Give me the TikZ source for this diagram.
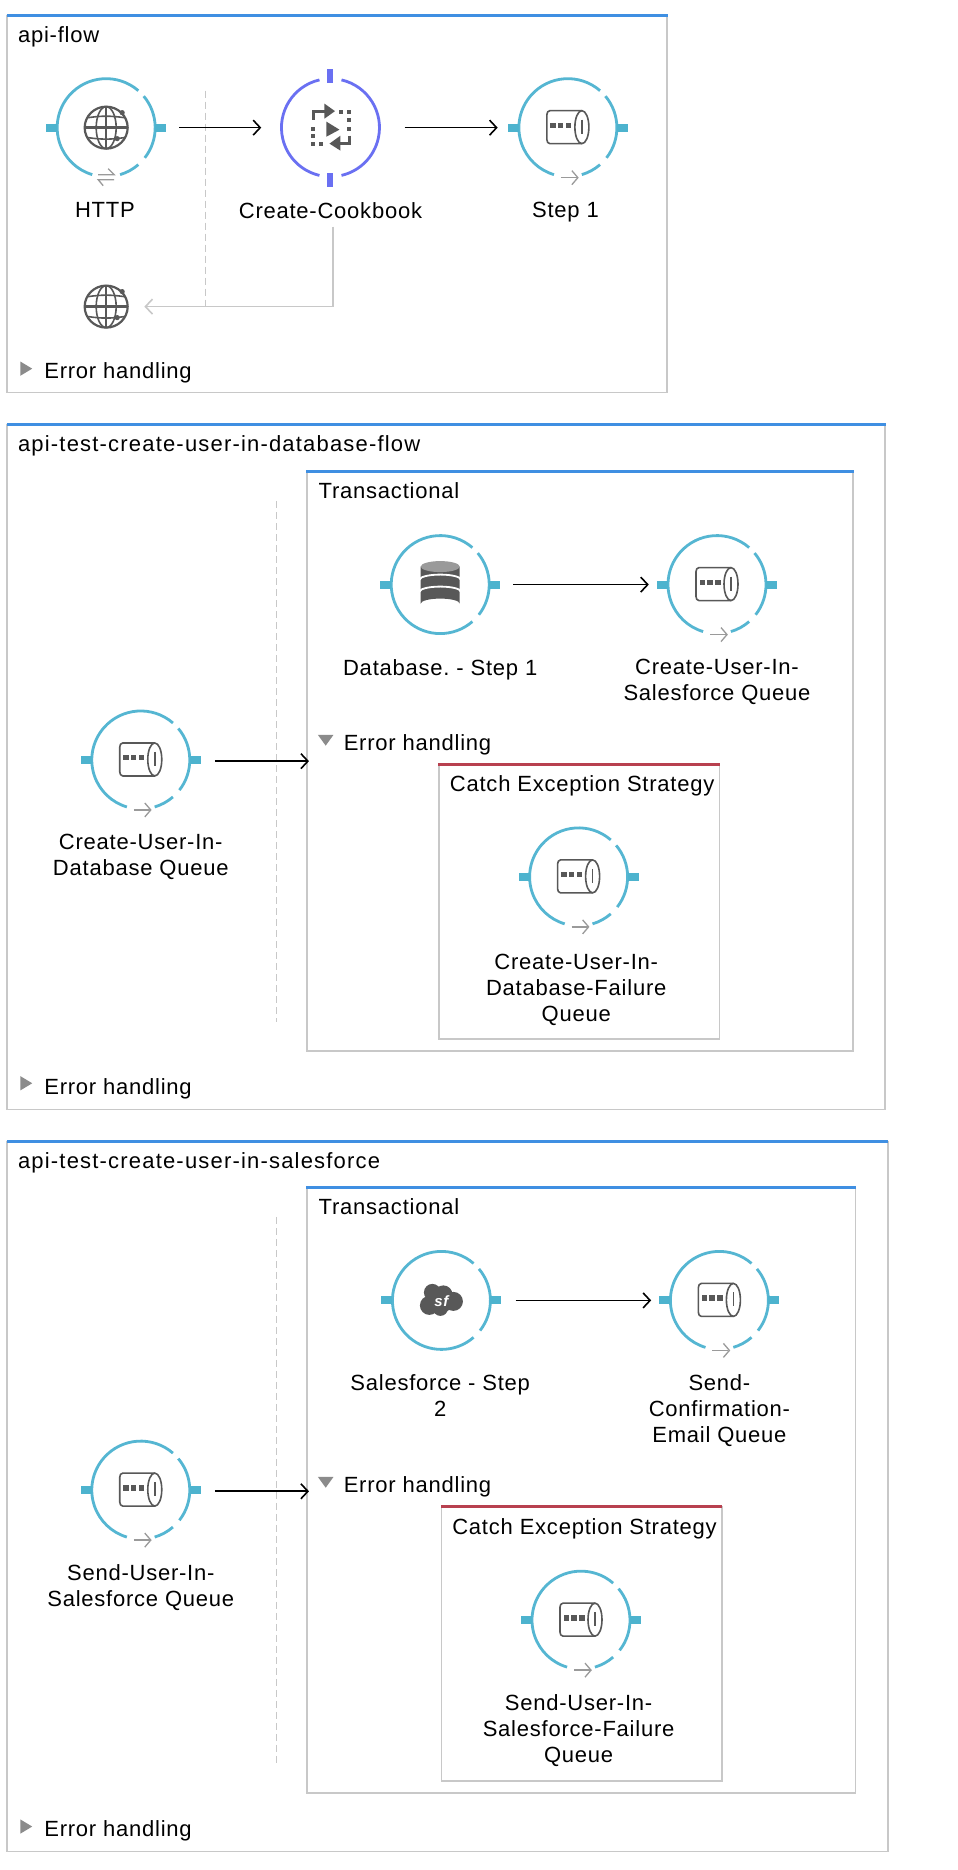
\documentclass[tikz,border=0pt]{standalone}
\usepackage{fontspec}
\setmainfont[LetterSpace=3.5]{Liberation Sans}
\newfontfamily\widefont[LetterSpace=5.4]{Liberation Sans}
\usetikzlibrary{arrows.meta}
\definecolor{ringc}{HTML}{55B6D2}
\definecolor{portc}{HTML}{4DB3CE}
\definecolor{violetc}{HTML}{6A70F2}
\definecolor{iconc}{HTML}{585858}
\definecolor{borderc}{HTML}{C8C8C8}
\definecolor{bluec}{HTML}{3F8FE2}
\definecolor{redc}{HTML}{B8404F}
\definecolor{hintc}{HTML}{9A9A9A}
\frenchspacing
\tikzset{
  holder/.style={circle,minimum size=98pt,inner sep=0pt,draw=none},
  ring/.style={draw=ringc,line width=2.8pt},
  vring/.style={draw=violetc,line width=2.8pt},
  iconline/.style={draw=iconc,line width=1.6pt,line join=round},
  iconfill/.style={fill=iconc,draw=none},
  hint/.style={draw=hintc,line width=1.3pt},
  lbl/.style={inner sep=0pt,font=\fontsize{22}{26}\selectfont,align=center,anchor=north,yshift=8pt,
    execute at begin node={\rule{0pt}{15pt}}},
  ttl/.style={inner sep=0pt,font=\fontsize{22}{26}\selectfont,anchor=north west,yshift=8pt,
    execute at begin node={\rule{0pt}{15pt}}},
  flowarrow/.style={draw=black,line width=1.6pt,-{Straight Barb[length=7pt,width=15pt,line width=1.6pt]}},
  retarrow/.style={draw=borderc,line width=1.6pt,-{Straight Barb[length=7pt,width=15pt,line width=1.6pt]}},
  divider/.style={draw=borderc,line width=1.3pt,dash pattern=on 7pt off 4pt},
  framebox/.style={draw=borderc,line width=1.8pt},
  bluetop/.style={draw=bluec,line width=3pt},
  redtop/.style={draw=redc,line width=3pt},
  tri/.style={fill=hintc!90!black,draw=none},
}
\newcommand{\ringgap}[1]{\begin{scope}[shift={(#1.center)},x=1pt,y=1pt]
  \draw[ring] (49:49pt) arc (49:253.5:49pt);
  \draw[ring] (286.5:49pt) arc (286.5:311:49pt);
  \draw[ring] (322:49pt) arc (322:400:49pt);
  \fill[portc] (-60,-4) rectangle (-49,4);
  \fill[portc] (49,-4) rectangle (60,4);
\end{scope}}
\newcommand{\ringfull}[1]{\begin{scope}[shift={(#1.center)},x=1pt,y=1pt]
  \draw[ring] (49:49pt) arc (49:311:49pt);
  \draw[ring] (322:49pt) arc (322:400:49pt);
  \fill[portc] (-60,-4) rectangle (-49,4);
  \fill[portc] (49,-4) rectangle (60,4);
\end{scope}}
\newcommand{\queueicon}[1]{\begin{scope}[shift={(#1.center)},x=1pt,y=-1pt]
  \draw[iconline] (14,-17) -- (-18,-17) to[out=180,in=90] (-21,-13) -- (-21,12) to[out=-90,in=180] (-18,16) -- (14,16);
  \draw[iconline] (14,-0.5) ellipse (7pt and 16.5pt);
  \draw[iconline] (14,-8) -- (14,6);
  \fill[iconc] (-17.5,-5) rectangle (-12,0.5);
  \fill[iconc] (-10,-5) rectangle (-4.5,0.5);
  \fill[iconc] (-2,-5) rectangle (3.5,0.5);
  \draw[hint] (-7,50) -- (9,50);
  \draw[hint] (4,43) -- (10,50) -- (4,57);
\end{scope}}
\newcommand{\globeicon}[1]{\begin{scope}[shift={(#1.center)},x=1pt,y=-1pt]
  \draw[iconline,line width=2.2pt] (0,0) ellipse (21.5pt and 21pt);
  \draw[iconline] (0,0) ellipse (10pt and 21pt);
  \draw[iconline,line width=2pt] (0,-21) -- (0,21);
  \draw[iconline,line width=2.6pt] (-21,0) -- (21,0);
  \draw[iconline] (-18,-10) to[bend left=8] (18,-10);
  \draw[iconline] (-18,10) to[bend right=8] (18,10);
  \fill[iconc] (16,-15) circle (2.6pt);
  \fill[iconc] (11,11) circle (2.6pt);
\end{scope}}
\newcommand{\httphint}[1]{\begin{scope}[shift={(#1.center)},x=1pt,y=-1pt]
  \draw[hint] (-8,47) -- (8,47) -- (2,41);
  \draw[hint] (8,52) -- (-8,52) -- (-3,58);
\end{scope}}
\newcommand{\dbicon}[1]{\begin{scope}[shift={(#1.center)},x=1pt,y=-1pt]
  \fill[iconc] (-19.5,-18) -- (-19.5,19) arc (180:360:19.5pt and -5pt) -- (19.5,-18) -- cycle;
  \draw[white,line width=1.8pt] (-20.5,-5) arc (180:360:20.5pt and -5pt);
  \draw[white,line width=1.8pt] (-20.5,7) arc (180:360:20.5pt and -5pt);
  \fill[hintc] (0,-18) ellipse (19.5pt and 5.5pt);
\end{scope}}
\newcommand{\sficon}[1]{\begin{scope}[shift={(#1.center)},x=1pt,y=-1pt]
  \fill[iconc] (-9,-8) circle (8.5pt);
  \fill[iconc] (-12,5) circle (9.5pt);
  \fill[iconc] (-1,8) circle (7.5pt);
  \fill[iconc] (2,-6) circle (9pt);
  \fill[iconc] (12,1) circle (9.5pt);
  \fill[iconc] (3,2) circle (9pt);
  \node[inner sep=0pt,text=white] (#1sf) at (0,0.5) {\fontsize{15}{15}\selectfont\bfseries\itshape sf};
\end{scope}}
\newcommand{\cookicon}[1]{\begin{scope}[shift={(#1.center)},x=1pt,y=-1pt]
  \draw[iconc,line width=2.6pt] (-17,-8) -- (-17,-16) -- (-4,-16);
  \fill[iconc] (-6,-24) -- (4.5,-16.5) -- (-6,-9) -- cycle;
  \draw[iconc,line width=2.6pt] (19,8) -- (19,16) -- (6,16);
  \fill[iconc] (10,8) -- (-1,16) -- (10,23) -- cycle;
  \fill[iconc] (-4,-6) -- (9,2) -- (-4,9) -- cycle;
  \foreach \px/\py in {11/-16,19/-16,19/-8,19/1,-17/1,-17/8,-17/16,-9/16}
    \fill[iconc] (\px-2,\py-2) rectangle (\px+2,\py+2);
\end{scope}}
\newcommand{\righttri}[2]{\fill[tri] (#1,#2) ++(0,-6) -- ++(10,6) -- ++(-10,6) -- cycle;}
\newcommand{\downtri}[2]{\fill[tri] (#1,#2) ++(-6.5,-5) -- ++(13,0) -- ++(-6.5,9) -- cycle;}
\begin{document}
\begin{tikzpicture}[x=1.19303pt,y=-1.19303pt]
\useasboundingbox (0,0) rectangle (803,1567.45);
\fill[white] (0,0) rectangle (803,1567.45);

%% ---------- flow 1 ----------
\draw[framebox] (6,13) rectangle (559,329);
\draw[bluetop] (5.5,13) -- (559.5,13);
\node[ttl] (t1) at (15,29) {api-flow};
\draw[divider] (172,76) -- (172,257);
\node[holder] (http) at (89,107) {};
\node[holder] (cook) at (277,107) {};
\node[holder] (step1) at (476,107) {};
\ringgap{http}\globeicon{http}\httphint{http}
\begin{scope}[shift={(cook.center)},x=1pt,y=1pt]
  \draw[vring] (77:49pt) arc (77:-77:49pt);
  \draw[vring] (103:49pt) arc (103:257:49pt);
  \fill[violetc] (-3,45) rectangle (3,59);
  \fill[violetc] (-3,-45) rectangle (3,-59);
\end{scope}
\cookicon{cook}
\ringgap{step1}\queueicon{step1}
\node[lbl] (lhttp) at (88,176) {HTTP};
\node[lbl] (lcook) at (277,176) {Create-Cookbook};
\node[lbl] (lstep1) at (474,176) {Step 1};
\draw[flowarrow,shorten <=24pt,shorten >=20pt] (http) -- (cook);
\draw[flowarrow,shorten <=25pt,shorten >=21pt] (cook) -- (step1);
\node[holder,minimum size=76pt] (globeb) at (89,257) {};
\globeicon{globeb}
\coordinate (rets) at (279,190);
\draw[retarrow] (rets) |- (globeb);
\righttri{17}{309}
\node[ttl] (e1) at (37,310.5) {Error handling};

%% ---------- flow 2 ----------
\draw[framebox] (6,356) rectangle (742,930);
\draw[bluetop] (5.5,356) -- (742.5,356);
\node[ttl] (t2) at (15,372) {\widefont api-test-create-user-in-database-flow};
\draw[divider] (232,420) -- (232,857);
\node[holder] (q2) at (118,637) {};
\ringgap{q2}\queueicon{q2}
\node[lbl] (lq2) at (118,706) {Create-User-In-\\Database Queue};
\draw[framebox] (257,395) rectangle (715,881);
\draw[bluetop] (256.5,395) -- (715.5,395);
\node[ttl] (t2b) at (267,411) {Transactional};
\node[holder] (db) at (369,490) {};
\node[holder] (q2a) at (601,490) {};
\ringfull{db}\dbicon{db}
\ringgap{q2a}\queueicon{q2a}
\node[lbl] (ldb) at (369,559) {Database. - Step 1};
\node[lbl] (lq2a) at (601,559) {Create-User-In-\\Salesforce Queue};
\downtri{273}{621}
\node[ttl] (e2b) at (288,622.5) {Error handling};
\draw[framebox] (368,641) rectangle (603,871);
\draw[redtop] (367.5,641) -- (603.5,641);
\node[ttl] (c2) at (377,657) {Catch Exception Strategy};
\node[holder] (q2c) at (485,735) {};
\ringgap{q2c}\queueicon{q2c}
\node[lbl] (lq2c) at (483,806) {Create-User-In-\\Database-Failure\\Queue};
\righttri{17}{908}
\node[ttl] (e2) at (37,910.5) {Error handling};
\coordinate (tr2) at (259,638);
\draw[flowarrow,shorten <=25pt] (q2.east |- tr2) -- (tr2);
\draw[flowarrow,shorten <=24pt,shorten >=19pt] (db) -- (q2a);

%% ---------- flow 3 ----------
\draw[framebox] (6,957) rectangle (744,1552);
\draw[bluetop] (5.5,957) -- (744.5,957);
\node[ttl] (t3) at (15,973) {\widefont api-test-create-user-in-salesforce};
\draw[divider] (232,1020) -- (232,1478);
\node[holder] (q3) at (118,1249) {};
\ringgap{q3}\queueicon{q3}
\node[lbl] (lq3) at (118,1318) {Send-User-In-\\Salesforce Queue};
\draw[framebox] (257,995) rectangle (717,1503);
\draw[bluetop] (256.5,995) -- (717.5,995);
\node[ttl] (t3b) at (267,1011) {Transactional};
\node[holder] (sf) at (370,1090) {};
\node[holder] (q3a) at (603,1090) {};
\ringfull{sf}\sficon{sf}
\ringgap{q3a}\queueicon{q3a}
\node[lbl] (lsf) at (369,1159) {Salesforce - Step\\2};
\node[lbl] (lq3a) at (603,1159) {Send-\\Confirmation-\\Email Queue};
\downtri{273}{1243}
\node[ttl] (e3b) at (288,1244.5) {Error handling};
\draw[framebox] (370,1263) rectangle (605,1493);
\draw[redtop] (369.5,1263) -- (605.5,1263);
\node[ttl] (c3) at (379,1279) {Catch Exception Strategy};
\node[holder] (q3c) at (487,1358) {};
\ringgap{q3c}\queueicon{q3c}
\node[lbl] (lq3c) at (485,1427) {Send-User-In-\\Salesforce-Failure\\Queue};
\righttri{17}{1531}
\node[ttl] (e3) at (37,1532.5) {Error handling};
\coordinate (tr3) at (259,1250);
\draw[flowarrow,shorten <=25pt] (q3.east |- tr3) -- (tr3);
\draw[flowarrow,shorten <=25pt,shorten >=19pt] (sf) -- (q3a);
\end{tikzpicture}
\end{document}
